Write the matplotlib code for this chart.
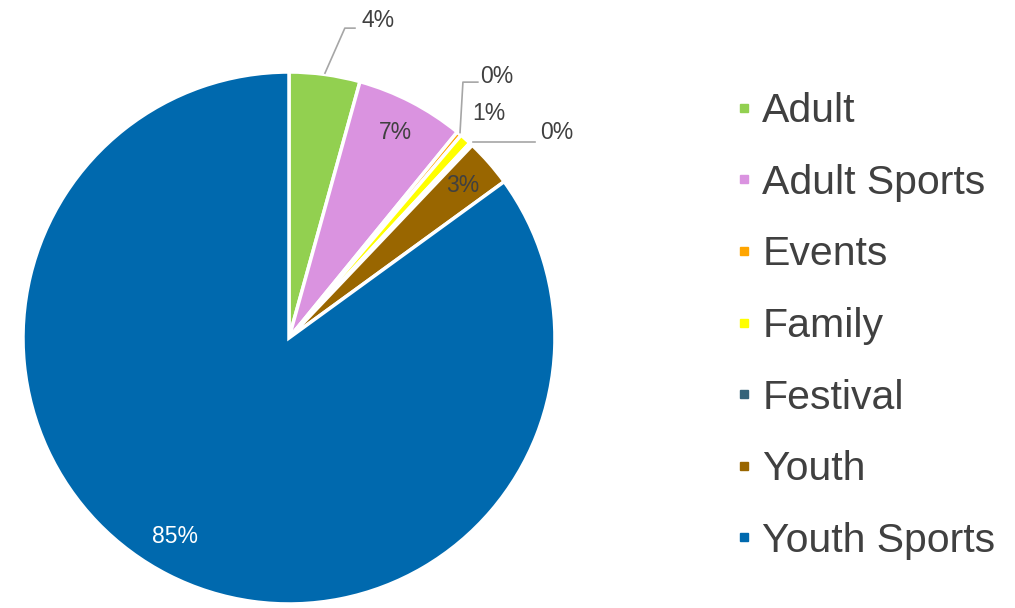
import numpy as np
import matplotlib.pyplot as plt
from matplotlib.lines import Line2D

plt.rcParams['font.family'] = ['Liberation Sans', 'DejaVu Sans']

# Share of registrations by program category
categories = ['Adult', 'Adult Sports', 'Events', 'Family', 'Festival', 'Youth', 'Youth Sports']
shares = [4.3, 6.6, 0.3, 0.7, 0.2, 2.9, 85.0]
colors = ['#92D050', '#DA93E0', '#FFA500', '#FFFF00', '#35647A', '#996600', '#0069AE']

text_color = '#404040'
pct_size = 16.5

fig = plt.figure(figsize=(10.15, 6.08), dpi=100)
ax = fig.add_axes([0.02266, 0.00658, 0.5241, 0.875])

wedges, _ = ax.pie(shares, colors=colors, startangle=90, counterclock=False,
                   wedgeprops=dict(edgecolor='white', linewidth=2.5))
ax.set_xlim(-1, 1)
ax.set_ylim(-1, 1)
ax.set_aspect('equal')

total = sum(shares)
labels = ['%d%%' % round(v / total * 100) for v in shares]

# mid-angle of each wedge, measured clockwise from 12 o'clock
mids = []
acc = 0
for v in shares:
    mids.append((acc + v / 2) / total * 2 * np.pi)
    acc += v


def point(angle, r):
    return r * np.sin(angle), r * np.cos(angle)


# labels inside the larger wedges
for i, col, r, da in [(1, text_color, 0.87, 0), (5, text_color, 0.87, 0),
                      (6, 'white', 0.86, 0.05)]:
    x, y = point(mids[i] + da, r)
    ax.text(x, y, labels[i], color=col, fontsize=pct_size, ha='center', va='center')

# Family label just outside, no leader
x, y = point(mids[3], 1.13)
ax.text(x, y, labels[3], color=text_color, fontsize=pct_size, ha='center', va='center')

# outside labels with elbow leader lines
leader = dict(color='#A6A6A6', linewidth=1.2)

# Adult
x0, y0 = point(mids[0], 1.005)
ax.plot([x0, 0.21, 0.248], [y0, 1.165, 1.165], clip_on=False, **leader)
ax.text(0.272, 1.195, labels[0], color=text_color, fontsize=pct_size, ha='left', va='center')

# Events
x0, y0 = point(mids[2], 1.005)
ax.plot([x0, 0.654, 0.71], [y0, 0.962, 0.962], clip_on=False, **leader)
ax.text(0.72, 0.985, labels[2], color=text_color, fontsize=pct_size, ha='left', va='center')

# Festival
x0, y0 = point(mids[4], 1.01)
ax.plot([x0, 0.925], [y0, y0], clip_on=False, **leader)
ax.text(0.944, y0 + 0.035, labels[4], color=text_color, fontsize=pct_size, ha='left', va='center')

handles = [Line2D([], [], marker='s', linestyle='none', markersize=6,
                  markerfacecolor=c, markeredgecolor=c) for c in colors]
fig.legend(handles, categories, loc='center left', bbox_to_anchor=(0.7005, 0.4638),
           frameon=False, fontsize=29.5, labelcolor=text_color, labelspacing=0.82,
           handlelength=0.6, handletextpad=0.15, borderpad=0)

fig.savefig('out.png', dpi=100)
